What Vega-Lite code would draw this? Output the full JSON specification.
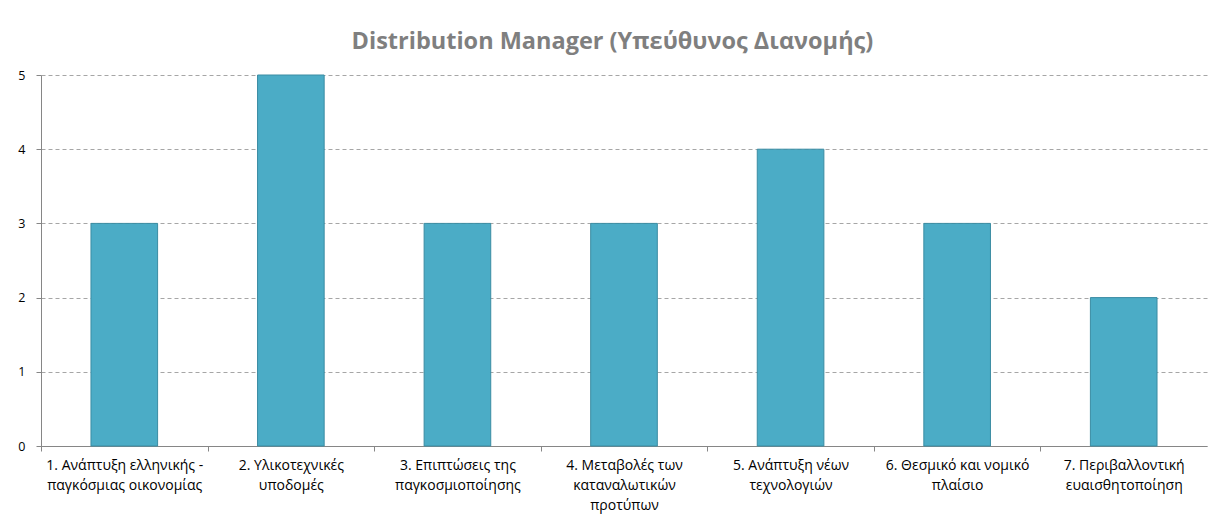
{
  "$schema": "https://vega.github.io/schema/vega-lite/v6.json",
  "width": 1166,
  "height": 371,
  "autosize": "none",
  "padding": {"left": 41, "top": 75, "right": 5, "bottom": 71},
  "background": "white",
  "title": {
    "text": "Distribution Manager (Υπεύθυνος Διανομής)",
    "font": "Open Sans",
    "fontSize": 23.5,
    "fontWeight": "bold",
    "color": "#7F7F7F",
    "anchor": "middle",
    "frame": "bounds",
    "offset": 16
  },
  "data": {
    "values": [
      {"cat": "1. Ανάπτυξη ελληνικής -|παγκόσμιας οικονομίας", "value": 3},
      {"cat": "2. Υλικοτεχνικές|υποδομές", "value": 5},
      {"cat": "3. Επιπτώσεις της|παγκοσμιοποίησης", "value": 3},
      {"cat": "4. Μεταβολές των|καταναλωτικών|προτύπων", "value": 3},
      {"cat": "5. Ανάπτυξη νέων|τεχνολογιών", "value": 4},
      {"cat": "6. Θεσμικό και νομικό|πλαίσιο", "value": 3},
      {"cat": "7. Περιβαλλοντική|ευαισθητοποίηση", "value": 2}
    ]
  },
  "mark": {"type": "bar", "color": "#4BACC6", "stroke": "#3A8CA3", "strokeWidth": 1},
  "encoding": {
    "x": {
      "field": "cat",
      "type": "nominal",
      "sort": null,
      "scale": {"paddingInner": 0.6, "paddingOuter": 0.3},
      "axis": {
        "title": null,
        "labelAngle": 0,
        "labelExpr": "split(datum.value, '|')",
        "labelFont": "Open Sans",
        "labelFontSize": 14,
        "labelColor": "#000000",
        "labelLineHeight": 20,
        "labelPadding": 7,
        "labelBaseline": "top",
        "tickOffset": -83.3,
        "labelOffset": 83.3,
        "tickSize": 5,
        "tickColor": "#868686",
        "domainColor": "#868686",
        "grid": false
      }
    },
    "y": {
      "field": "value",
      "type": "quantitative",
      "scale": {"domain": [0, 5], "nice": false},
      "axis": {
        "title": null,
        "values": [0, 1, 2, 3, 4, 5],
        "labelFont": "Open Sans",
        "labelFontSize": 12.5,
        "labelColor": "#000000",
        "labelPadding": 11,
        "tickSize": 5,
        "tickColor": "#868686",
        "domainColor": "#868686",
        "grid": true,
        "gridColor": "#A6A6A6",
        "gridDash": [4, 3],
        "gridWidth": 1
      }
    }
  },
  "config": {"view": {"stroke": null}}
}
